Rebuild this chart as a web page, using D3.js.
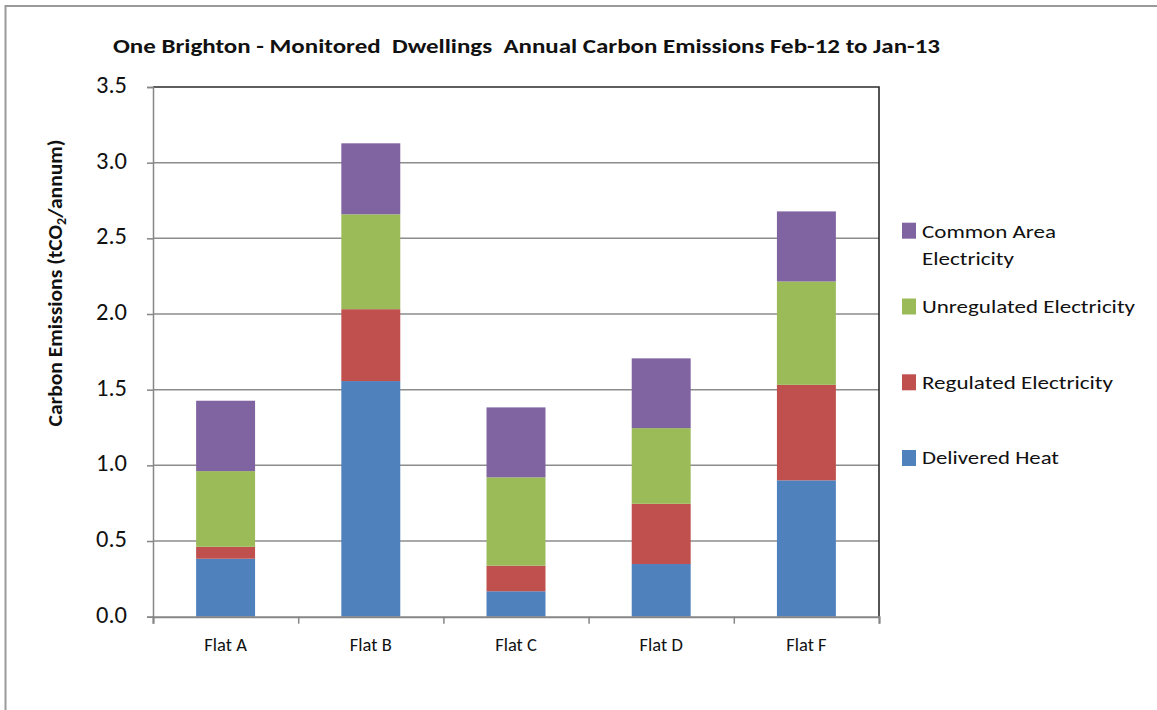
<!DOCTYPE html>
<html><head><meta charset="utf-8">
<script src="https://cdn.jsdelivr.net/npm/d3@7"></script>
<style>
body{margin:0;background:#fff;}
svg{display:block;font-family:Carlito,Calibri,Lato,sans-serif;}
</style></head>
<body><svg id="chart" width="1157" height="710"></svg>
<script>
const categories = ["Flat A","Flat B","Flat C","Flat D","Flat F"];
const seriesNames = ["Delivered Heat","Regulated Electricity","Unregulated Electricity","Common Area Electricity"];
const deliveredHeat = [0.383, 1.557, 0.168, 0.348, 0.901];
const regulatedElec = [0.079, 0.475, 0.169, 0.398, 0.631];
const unregulatedElec = [0.500, 0.627, 0.584, 0.500, 0.683];
const commonAreaElec = [0.465, 0.469, 0.462, 0.461, 0.463];
const yTicks = [0, 0.5, 1.0, 1.5, 2.0, 2.5, 3.0, 3.5];
const colors = ["#4F81BD","#C0504D","#9BBB59","#8064A2"];
const titleText = "One Brighton - Monitored\u00a0 Dwellings\u00a0 Annual Carbon Emissions Feb-12 to Jan-13";

const svg = d3.select("#chart");
const m = {left:153, right:879, top:87, bottom:616.7};

// outer chart border
svg.append("rect").attr("x",5.5).attr("y",6).attr("width",1170).attr("height",720)
  .attr("fill","none").attr("stroke","#9a9a9a").attr("stroke-width",2);

const x = d3.scaleBand().domain(categories).range([m.left,m.right]).paddingInner(0.594).paddingOuter(0.297);
const xEdge = d3.scaleLinear().domain([0,categories.length]).range([m.left,m.right]);
const y = d3.scaleLinear().domain([0,3.5]).range([m.bottom,m.top]);

// gridlines
svg.append("g").selectAll("line").data(yTicks.filter(d=>d>0 && d<3.5)).join("line")
  .attr("x1",m.left).attr("x2",m.right).attr("y1",d=>y(d)).attr("y2",d=>y(d))
  .attr("stroke","#8c8c8c").attr("stroke-width",1.5);

// stacked data
const rows = categories.map((c,i)=>({cat:c,
  "Delivered Heat":deliveredHeat[i],"Regulated Electricity":regulatedElec[i],
  "Unregulated Electricity":unregulatedElec[i],"Common Area Electricity":commonAreaElec[i]}));
const stacked = d3.stack().keys(seriesNames)(rows);
svg.append("g").selectAll("g").data(stacked).join("g")
  .attr("fill",(d,i)=>colors[i])
  .selectAll("rect").data(d=>d).join("rect")
  .attr("x",d=>x(d.data.cat)).attr("width",x.bandwidth())
  .attr("y",d=>y(d[1])).attr("height",d=>y(d[0])-y(d[1]));

// plot border top & right
svg.append("path").attr("d",`M${m.left},${m.top}H${m.right}V${m.bottom}`)
  .attr("fill","none").attr("stroke","#2a2a2a").attr("stroke-width",1.6);

// y axis
const yAxis = d3.axisLeft(y).tickValues(yTicks).tickFormat(d3.format(".1f")).tickSize(6).tickPadding(20);
const gy = svg.append("g").attr("transform",`translate(${m.left},0)`).call(yAxis);
gy.select(".domain").attr("stroke","#868686").attr("stroke-width",1.5);
gy.selectAll(".tick line").attr("stroke","#868686").attr("stroke-width",1.5);
gy.selectAll(".tick text").attr("font-size",24.5).attr("fill","#111").attr("dy","0.22em")
  .attr("font-family","Carlito,Calibri,Lato,sans-serif");

// x axis
const gx = svg.append("g").attr("transform",`translate(0,${m.bottom})`)
  .call(d3.axisBottom(xEdge).tickValues(d3.range(categories.length+1)).tickSize(7).tickFormat(""));
gx.select(".domain").attr("stroke","#868686").attr("stroke-width",2);
gx.selectAll(".tick line").attr("stroke","#868686").attr("stroke-width",1.5);
svg.append("g").selectAll("text").data(categories).join("text")
  .attr("x",d=>x(d)+x.bandwidth()/2).attr("y",651).attr("text-anchor","middle")
  .attr("font-size",18.5).attr("fill","#111").text(d=>d);

// title
svg.append("text").attr("x",113).attr("y",53).attr("font-weight","bold")
  .attr("font-size",21).attr("fill","#111")
  .attr("textLength",827).attr("lengthAdjust","spacingAndGlyphs").text(titleText);

// y axis title
const yt = svg.append("text").attr("transform","translate(62,283) rotate(-90)")
  .attr("text-anchor","middle").attr("font-weight","bold").attr("font-size",20).attr("fill","#111")
  .attr("textLength",287).attr("lengthAdjust","spacingAndGlyphs");
yt.append("tspan").text("Carbon Emissions (tCO");
yt.append("tspan").attr("font-size",13).attr("dy",4).text("2");
yt.append("tspan").attr("dy",-4).text("/annum)");

// legend
const legend = [
  {i:3, lines:["Common Area","Electricity"], widths:[134,92], sq:222.7, base:237.7},
  {i:2, lines:["Unregulated Electricity"], widths:[213], sq:298.5, base:312.7},
  {i:1, lines:["Regulated Electricity"], widths:[191], sq:374.3, base:388.7},
  {i:0, lines:["Delivered Heat"], widths:[137], sq:450, base:464}
];
const lg = svg.append("g");
legend.forEach(L=>{
  lg.append("rect").attr("x",902).attr("y",L.sq).attr("width",14).attr("height",16).attr("fill",colors[L.i]);
  L.lines.forEach((t,k)=>{
    lg.append("text").attr("x",922).attr("y",L.base+k*27.3).attr("font-size",19).attr("fill","#111")
      .attr("textLength",L.widths[k]).attr("lengthAdjust","spacingAndGlyphs").text(t);
  });
});
</script></body></html>
